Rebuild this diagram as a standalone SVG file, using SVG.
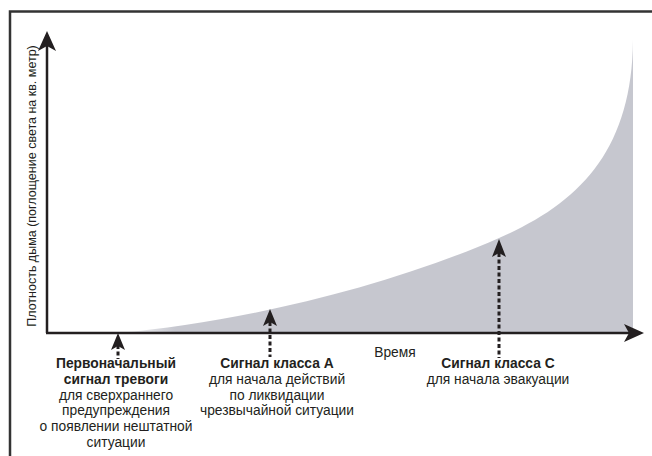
<svg xmlns="http://www.w3.org/2000/svg" width="652" height="456" viewBox="0 0 652 456">
<style>
text{font-family:"Liberation Sans",Arial,sans-serif;font-size:13.8px;fill:#231f20;text-anchor:middle}
.b{font-weight:bold}
.yl{font-size:12.5px}
.ax{stroke:#231f20;stroke-width:2.5;fill:none}
.dash{stroke:#231f20;stroke-width:3;stroke-dasharray:4,2.5;fill:none}
.head{fill:#231f20}
</style>
<defs>
<linearGradient id="g" x1="118" y1="0" x2="175" y2="0" gradientUnits="userSpaceOnUse">
<stop offset="0" stop-color="#ffffff"/>
<stop offset="1" stop-color="#c6c7cf"/>
</linearGradient>
</defs>
<rect width="652" height="456" fill="#ffffff"/>
<path d="M10,460 V11.5 H660" fill="none" stroke="#333" stroke-width="2.5"/>
<path id="area" d="M118,333 C235,323 385,288 499,238 C580,203 632,150 633,40 V333 Z" fill="url(#g)"/>
<g id="axes">
<path class="ax" d="M47,333 V44"/>
<path class="head" d="M47,31 L56,51 L47,46 L38,51 Z"/>
<path class="ax" d="M46,333 H632"/>
<path class="head" d="M644,333 L624,342 L629,333 L624,324 Z"/>
<text class="yl" transform="translate(36,186) rotate(-90)">Плотность дыма (поглощение света на кв. метр)</text>
<text x="395" y="357">Время</text>
</g>
<g id="connectors">
<path class="dash" d="M118,345 V359"/>
<path class="head" d="M118,333 L125,350 L118,346 L111,350 Z"/>
<path class="dash" d="M270,322 V357"/>
<path class="head" d="M270,309 L277,326 L270,322 L263,326 Z"/>
<path class="dash" d="M499,253 V358"/>
<path class="head" d="M499,239 L506,257 L499,253 L492,257 Z"/>
</g>
<g id="signal-initial">
<text x="116" y="368" class="b">Первоначальный</text>
<text x="116" y="384" class="b">сигнал тревоги</text>
<text x="116" y="400">для сверхраннего</text>
<text x="116" y="415">предупреждения</text>
<text x="116" y="431">о появлении нештатной</text>
<text x="116" y="447">ситуации</text>
</g>
<g id="signal-a">
<text x="277" y="368" class="b">Сигнал класса А</text>
<text x="277" y="384">для начала действий</text>
<text x="277" y="400">по ликвидации</text>
<text x="277" y="415">чрезвычайной ситуации</text>
</g>
<g id="signal-c">
<text x="498" y="368" class="b">Сигнал класса С</text>
<text x="498" y="384">для начала эвакуации</text>
</g>
</svg>
